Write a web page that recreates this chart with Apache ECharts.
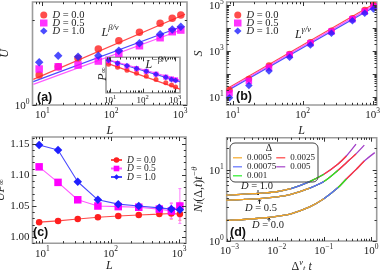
<!DOCTYPE html>
<html><head><meta charset="utf-8">
<script src="https://cdn.jsdelivr.net/npm/echarts@6/dist/echarts.min.js"></script>
<style>html,body{margin:0;padding:0;background:#fff}#c{width:382px;height:270px}</style>
</head><body><div id="c"></div>
<script>
// ---------- data ----------
const L = [9, 17, 33, 65, 129, 257, 513, 769, 1025];
// (a) U vs L
const U_D00 = [1.278, 1.367, 1.464, 1.580, 1.690, 1.811, 1.949, 2.030, 2.085];
const U_D05 = [1.342, 1.367, 1.386, 1.432, 1.525, 1.623, 1.733, 1.820, 1.845];
const U_D10 = [1.417, 1.496, 1.484, 1.496, 1.558, 1.655, 1.781, 1.855, 1.896];
const UFit_D00 = [[7.4, 1.233], [1180, 2.10]];
const UFit_D05 = [[7.4, 1.184], [1060, 1.85]];
const UFit_D10 = [[7.4, 1.21], [1060, 1.90]];
// (a) inset P_inf vs L
const P_D00 = [0.70, 0.655, 0.615, 0.575, 0.54, 0.505, 0.47, 0.448, 0.43];
const P_D05 = [0.75, 0.71, 0.67, 0.635, 0.60, 0.565, 0.53, 0.51, 0.50];
const P_D10 = [0.76, 0.715, 0.675, 0.638, 0.60, 0.565, 0.53, 0.505, 0.492];
const PFit_D00 = [[7.5, 0.719], [1400, 0.41]];
const PFit_D05 = [[7.5, 0.781], [1400, 0.499]];
const PFit_D10 = [[7.5, 0.773], [1400, 0.482]];
// (b) S vs L
const S_D00 = [19.6, 59.3, 226, 733, 2377, 7620, 26500, 61100, 101000];
const S_D05 = [14.1, 48.5, 185, 662, 2148, 6890, 24000, 51500, 85100];
const S_D10 = [9.0, 30.2, 132, 525, 1811, 5870, 20800, 43900, 67600];
const SFit_D00 = [[8.5, 23.3], [1115, 127000]];
const SFit_D05 = [[8.5, 20.8], [1115, 107000]];
const SFit_D10 = [[8.5, 18.3], [1115, 91600]];
// (c) U*P_inf vs L
const UP_D00 = [1.024, 1.026, 1.029, 1.032, 1.034, 1.0355, 1.037, 1.038, 1.037];
const UP_D05 = [1.113, 1.088, 1.060, 1.050, 1.049, 1.048, 1.045, 1.042, 1.050];
const UP_D10 = [1.148, 1.140, 1.089, 1.060, 1.053, 1.050, 1.047, 1.045, 1.044];
const UPerr_D00 = [0, 0, 0, 0, 0, 0, 0, 0.009, 0.010];
const UPerr_D05 = [0, 0, 0, 0, 0, 0, 0, 0.012, 0.028];
const UPerr_D10 = [0, 0, 0, 0, 0, 0, 0, 0.010, 0.012];
// (d) scaled N_l vs Delta^nu t
const deltas = ['0.0005', '0.00075', '0.001', '0.0025', '0.005'];
const dX = [0.0008, 0.001, 0.002, 0.005, 0.01, 0.02, 0.05, 0.1, 0.2, 0.3, 0.48, 0.72, 1.2];
const N_D00 = [1.94, 1.95, 2.0, 2.1, 2.22, 2.4, 3.0, 3.9, 5.6, 7.4, 10.0, 13.2, 17.3];
const N_D05 = [3.72, 3.75, 3.82, 3.95, 4.15, 4.5, 5.5, 6.8, 9.8, 12.5, 16.6, 22.0];
const N_D10 = [4.38, 4.40, 4.55, 4.7, 4.9, 5.4, 6.8, 8.6, 12.0, 15.5, 22.7];
const nPts_D00 = [8, 9, 10, 12, 13];
const nPts_D05 = [7, 8, 9, 11, 12];
const nPts_D10 = [6, 7, 8, 10, 11];
// tick labels
const xLabL = [10, 100, 1000];
const yLabA = [1];
const yLabB = [10, 1000, 100000];
const yLabC = [1.00, 1.05, 1.10, 1.15];
const xLabD = [0.001, 0.01, 0.1, 1];
const yLabD = [1, 10];

// ---------- styling helpers ----------
const SERIF = 'Liberation Serif';
const SANS = 'Liberation Sans';
const TXT = '#222';
const RED = '#ff1f1f', MAG = '#ff00ff', BLU = '#1f1fff';
const RED_L = '#ff4a4a', MAG_L = '#ff5aff', BLU_L = '#4a4aff';
const DCOL = ['#f5a623', '#5a6cff', '#22ee22', '#ff3a3a', '#a23ec8'];
const LINE_ICON = 'path://M0,0L0,0M0,3.2h10v1.3h-10zM10,7L10,7';

const RICH = {
  b: {fontFamily: SERIF, fontSize: 11, lineHeight: 14, verticalAlign: 'bottom', color: TXT},
  s: {fontFamily: SERIF, fontSize: 7.5, lineHeight: 8, verticalAlign: 'top', color: TXT},
  bs: {fontFamily: SERIF, fontSize: 9, lineHeight: 11, verticalAlign: 'bottom', color: TXT},
  ss: {fontFamily: SERIF, fontSize: 6.5, lineHeight: 7, verticalAlign: 'top', color: TXT},
  i: {fontFamily: SERIF, fontStyle: 'italic', fontSize: 12, lineHeight: 15, verticalAlign: 'bottom', color: TXT},
  n: {fontFamily: SERIF, fontSize: 12, lineHeight: 15, verticalAlign: 'bottom', color: TXT},
  sup: {fontFamily: SERIF, fontStyle: 'italic', fontSize: 8.5, lineHeight: 9, verticalAlign: 'top', color: TXT},
  sub: {fontFamily: SERIF, fontStyle: 'italic', fontSize: 8.5, lineHeight: 9, verticalAlign: 'bottom', color: TXT},
  subn: {fontFamily: SERIF, fontSize: 8.5, lineHeight: 9, verticalAlign: 'bottom', color: TXT},
  di: {fontFamily: SERIF, fontStyle: 'italic', fontSize: 10.5, color: TXT},
  dn: {fontFamily: SERIF, fontSize: 10.5, color: TXT}
};

function isIn(v, list) { return list.some(t => Math.abs(t - v) <= Math.abs(t) * 1e-6); }
function expFmt(list, small) {
  return function (v) {
    if (!isIn(v, list)) return '';
    const e = Math.round(Math.log10(v));
    const es = e < 0 ? '\u2212' + (-e) : String(e);
    return small ? '{bs|10}{ss|' + es + '}' : '{b|10}{s|' + es + '}';
  };
}
function minors(lo, hi) {
  const out = [];
  for (let k = Math.floor(Math.log10(lo)); k <= Math.ceil(Math.log10(hi)); k++) {
    for (let m = 2; m <= 9; m++) { const v = m * Math.pow(10, k); if (v >= lo && v <= hi) out.push(v); }
  }
  return out;
}
function decades(lo, hi) {
  const out = [];
  for (let k = Math.ceil(Math.log10(lo) - 1e-9); k <= Math.floor(Math.log10(hi) + 1e-9); k++) out.push(Math.pow(10, k));
  return out;
}
function tickSeries(axis, xi, yi, values, len, ref) {
  return {
    type: 'custom', xAxisIndex: xi, yAxisIndex: yi, silent: true, clip: false, z: 10,
    data: values.map(v => axis === 'x' ? [v, ref] : [ref, v]),
    renderItem: function (params, api) {
      const cs = params.coordSys;
      const p = api.coord([api.value(0), api.value(1)]);
      const st = {stroke: '#333', lineWidth: 1};
      if (axis === 'x') {
        const x = Math.round(p[0]) + 0.5;
        if (x < cs.x - 0.5 || x > cs.x + cs.width + 0.5) return null;
        const b = cs.y + cs.height, t = cs.y;
        return {type: 'group', children: [
          {type: 'line', shape: {x1: x, y1: b, x2: x, y2: b - len}, style: st},
          {type: 'line', shape: {x1: x, y1: t, x2: x, y2: t + len}, style: st}]};
      } else {
        const y = Math.round(p[1]) + 0.5;
        if (y < cs.y - 0.5 || y > cs.y + cs.height + 0.5) return null;
        const l = cs.x, r = cs.x + cs.width;
        return {type: 'group', children: [
          {type: 'line', shape: {x1: l, y1: y, x2: l + len, y2: y}, style: st},
          {type: 'line', shape: {x1: r, y1: y, x2: r - len, y2: y}, style: st}]};
      }
    }
  };
}

const R = {
  a: {x: [7.2, 1260], y: [1, 2.32]},
  ai: {x: [7.5, 1400], y: [0.38, 0.81]},
  b: {x: [8.2, 1140], y: [4.3, 136000]},
  c: {x: [7.2, 1260], y: [0.99, 1.161]},
  d: {x: [0.00087, 1.32], y: [1, 28]}
};

function gridBox(left, top, width, height, bg) {
  return {left, top, width, height, show: true, borderColor: '#9c9c9c', borderWidth: 1.6,
    backgroundColor: bg || 'transparent', containLabel: false, outerBoundsMode: 'none'};
}
function xAx(gi, rng, fmt, name, gap, margin) {
  return {type: 'log', gridIndex: gi, min: rng[0], max: rng[1], logBase: 10,
    axisLine: {show: false}, axisTick: {show: false}, splitLine: {show: false}, minorTick: {show: false},
    axisLabel: {formatter: fmt, margin: margin == null ? 2 : margin, rich: RICH, showMinLabel: true, showMaxLabel: true, hideOverlap: false},
    name: name || '', nameLocation: 'middle', nameGap: gap || 15, nameTextStyle: {rich: RICH}};
}
function yAx(gi, rng, fmt, name, gap, type) {
  const o = {type: type || 'log', gridIndex: gi, min: rng[0], max: rng[1],
    axisLine: {show: false}, axisTick: {show: false}, splitLine: {show: false}, minorTick: {show: false},
    axisLabel: {formatter: fmt, margin: 3, rich: RICH, fontFamily: SERIF, fontSize: 11, color: TXT, hideOverlap: false},
    name: name || '', nameLocation: 'middle', nameGap: gap || 20, nameTextStyle: {rich: RICH}};
  if (o.type === 'log') o.logBase = 10;
  return o;
}

function pts(xs, ys) { return xs.map((x, i) => [x, ys[i]]); }
function scat(name, xi, data, color, symbol, size) {
  return {name, type: 'scatter', xAxisIndex: xi, yAxisIndex: xi, data, symbol, symbolSize: size,
    itemStyle: {color}, z: 4};
}
function fit(xi, data, color) {
  return {type: 'line', xAxisIndex: xi, yAxisIndex: xi, data, symbol: 'none', silent: true,
    lineStyle: {color, width: 1.2}, z: 3};
}

// ---------- series ----------
const series = [];
// (a)
series.push(fit(0, UFit_D00, RED_L), fit(0, UFit_D10, BLU_L), fit(0, UFit_D05, MAG_L));
series.push(scat('a:0.0', 0, pts(L, U_D00), RED, 'circle', 7.5));
series.push(scat('a:0.5', 0, pts(L, U_D05), MAG, 'rect', 7.5));
series.push(scat('a:1.0', 0, pts(L, U_D10), BLU, 'diamond', 8.5));
// (a) inset
series.push(fit(1, PFit_D00, RED_L), fit(1, PFit_D10, BLU_L), fit(1, PFit_D05, MAG_L));
series.push(scat('ai:0.0', 1, pts(L, P_D00), RED, 'circle', 5));
series.push(scat('ai:0.5', 1, pts(L, P_D05), MAG, 'rect', 5));
series.push(scat('ai:1.0', 1, pts(L, P_D10), BLU, 'diamond', 6));
// (b)
series.push(fit(2, SFit_D00, RED_L), fit(2, SFit_D05, MAG_L), fit(2, SFit_D10, BLU_L));
series.push(scat('b:0.0', 2, pts(L, S_D00), RED, 'circle', 6.5));
series.push(scat('b:0.5', 2, pts(L, S_D05), MAG, 'rect', 6.5));
series.push(scat('b:1.0', 2, pts(L, S_D10), BLU, 'diamond', 7.5));
// (c) error bars
function errSeries(ys, es, color) {
  return {type: 'custom', xAxisIndex: 3, yAxisIndex: 3, silent: true, z: 3,
    data: L.map((x, i) => [x, ys[i], es[i]]).filter(d => d[2] > 0),
    renderItem: function (params, api) {
      const x = api.value(0), y = api.value(1), e = api.value(2);
      const p1 = api.coord([x, y - e]), p2 = api.coord([x, y + e]);
      const st = {stroke: color, lineWidth: 1};
      return {type: 'group', children: [
        {type: 'line', shape: {x1: p1[0], y1: p1[1], x2: p2[0], y2: p2[1]}, style: st},
        {type: 'line', shape: {x1: p1[0] - 1.5, y1: p1[1], x2: p1[0] + 1.5, y2: p1[1]}, style: st},
        {type: 'line', shape: {x1: p2[0] - 1.5, y1: p2[1], x2: p2[0] + 1.5, y2: p2[1]}, style: st}]};
    }};
}
series.push(errSeries(UP_D00, UPerr_D00, '#ff8080'), errSeries(UP_D05, UPerr_D05, '#ff80ff'), errSeries(UP_D10, UPerr_D10, '#ff80ff'));
function cline(name, ys, color, lcolor, symbol, size) {
  return {name, type: 'line', xAxisIndex: 3, yAxisIndex: 3, data: pts(L, ys), symbol, symbolSize: size,
    showSymbol: true, itemStyle: {color}, lineStyle: {color: lcolor, width: 1.1}, z: 4};
}
series.push(cline('c:0.0', UP_D00, RED, RED_L, 'circle', 6.5));
series.push(cline('c:0.5', UP_D05, MAG, MAG_L, 'rect', 7.5));
series.push(cline('c:1.0', UP_D10, BLU, BLU_L, 'diamond', 8.5));
// (d)
const bundles = [[N_D00, nPts_D00], [N_D05, nPts_D05], [N_D10, nPts_D10]];
deltas.forEach((dl, k) => {
  bundles.forEach(([ys, ns]) => {
    const n = ns[k];
    series.push({name: 'd:' + dl, type: 'line', xAxisIndex: 4, yAxisIndex: 4,
      data: dX.slice(0, n).map((x, i) => [x, ys[i]]), symbol: 'none', smooth: 0.3,
      lineStyle: {color: DCOL[k], width: 1.3}, itemStyle: {color: DCOL[k]}, z: 3.5 - k * 0.1});
  });
});

// ticks
function addTicks(gi, rx, ry, yMajors, yMinors) {
  series.push(tickSeries('x', gi, gi, decades(rx[0], rx[1]), 4, ry[0]));
  series.push(tickSeries('x', gi, gi, minors(rx[0], rx[1]), 2.2, ry[0]));
  if (yMajors) series.push(tickSeries('y', gi, gi, yMajors, 4, rx[0]));
  if (yMinors) series.push(tickSeries('y', gi, gi, yMinors, 2.2, rx[0]));
}
addTicks(0, R.a.x, R.a.y, decades(R.a.y[0], R.a.y[1]), minors(R.a.y[0], R.a.y[1]));
addTicks(1, R.ai.x, R.ai.y, null, null);
addTicks(2, R.b.x, R.b.y, decades(R.b.y[0], R.b.y[1]), minors(R.b.y[0], R.b.y[1]));
const cMinor = [];
for (let v = 99; v <= 116; v++) cMinor.push(v / 100);
addTicks(3, R.c.x, R.c.y, yLabC, cMinor);
addTicks(4, R.d.x, R.d.y, decades(R.d.y[0], R.d.y[1]), minors(R.d.y[0], R.d.y[1]));

// ---------- legends ----------
function dLegend(prefix, left, top, iw, fs, gap) {
  return {data: ['0.0', '0.5', '1.0'].map(s => prefix + ':' + s), left, top, orient: 'vertical',
    itemGap: gap, itemWidth: iw, itemHeight: 7, padding: 0, selectedMode: false,
    formatter: n => '{i|D} = ' + n.split(':')[1],
    textStyle: {fontFamily: SERIF, fontSize: fs, color: TXT,
      rich: {i: {fontFamily: SERIF, fontStyle: 'italic', fontSize: fs, color: TXT}}}};
}
const legends = [
  dLegend('a', 40, 9.5, 7.5, 10.5, -3),
  dLegend('b', 234, 9.5, 7.5, 10.5, -3),
  dLegend('c', 110, 155, 11, 9.5, -1.5),
  {data: deltas.map(d => 'd:' + d), left: 230, top: 143, orient: 'vertical', height: 30,
    itemGap: 0, itemWidth: 9, itemHeight: 7, padding: [10, 3, 2, 3], selectedMode: false,
    icon: LINE_ICON,
    borderColor: '#444', borderWidth: 1, borderRadius: 5,
    formatter: n => n.split(':')[1],
    textStyle: {fontFamily: SERIF, fontSize: 9, color: TXT}}
];

// ---------- graphics ----------
function gtext(x, y, text, extra) {
  return Object.assign({type: 'text', x, y, silent: true, z: 50,
    style: Object.assign({text, rich: RICH, align: 'center', verticalAlign: 'middle', fill: TXT,
      fontFamily: SERIF, fontSize: 11}, (extra && extra.style) || {})},
    extra && extra.rot ? {rotation: extra.rot} : {});
}
const panelLbl = (x, y, t) => ({type: 'text', x, y, silent: true, z: 50,
  style: {text: t, fontFamily: SANS, fontWeight: 'bold', fontSize: 12.5, fill: '#111', align: 'left', verticalAlign: 'middle'}});
function arrow(x, y1, y2) {
  const d = y2 > y1 ? -1.8 : 1.8;
  return {type: 'group', silent: true, z: 50, children: [
    {type: 'line', shape: {x1: x, y1: y1, x2: x, y2: y2}, style: {stroke: '#111', lineWidth: 0.9}},
    {type: 'polyline', shape: {points: [[x - 1.3, y2 + d], [x, y2], [x + 1.3, y2 + d]]}, style: {stroke: '#111', lineWidth: 0.9, fill: null}}]};
}
const graphic = [
  panelLbl(37, 98, '(a)'), panelLbl(236, 97, '(b)'), panelLbl(33, 233, '(c)'), panelLbl(230, 233, '(d)'),
  gtext(110, 31, '{i|L}{sup|β/ν}'),
  gtext(157, 63, '{i|L}{sup|−β/ν}'),
  gtext(101, 74, '{i|P}{subn|∞}', {rot: Math.PI / 2}),
  gtext(303, 33, '{i|L}{sup|γ/ν}'),
  gtext(269, 148, 'Δ', {style: {fontSize: 10}}),
  gtext(257, 186, '{di|D}{dn| = 1.0}'),
  gtext(261, 208, '{di|D}{dn| = 0.5}'),
  gtext(268, 225, '{di|D}{dn| = 0.0}'),
  arrow(258, 190, 195), arrow(259.5, 204, 199.5), arrow(269, 221.5, 218)
];

const option = {
  animation: false,
  backgroundColor: '#fff',
  grid: [
    gridBox(32.5, 2, 154.5, 103),
    gridBox(106, 57.3, 74, 35.4, '#fff'),
    gridBox(226.7, 2, 150, 103),
    gridBox(32.5, 137, 153.5, 106.3),
    gridBox(226.7, 137.7, 150, 103.3)
  ],
  xAxis: [
    xAx(0, R.a.x, expFmt(xLabL), '{i|L}', 17),
    xAx(1, R.ai.x, expFmt(xLabL, true), '', 10, 1),
    xAx(2, R.b.x, expFmt(xLabL), '{i|L}', 17),
    xAx(3, R.c.x, expFmt(xLabL), '{i|L}', 14),
    xAx(4, R.d.x, expFmt(xLabD), '{n|Δ}{sup|ν}{sub|t}{n| }{i|t}', 16)
  ],
  yAxis: [
    yAx(0, R.a.y, expFmt(yLabA), '{i|U}', 21),
    yAx(1, R.ai.y, () => '', '', 10),
    yAx(2, R.b.y, expFmt(yLabB), '{i|S}', 19),
    yAx(3, R.c.y, v => isIn(v, yLabC) ? v.toFixed(2) : '', '{i|UP}{subn|∞}', 20, 'value'),
    yAx(4, R.d.y, expFmt(yLabD), '{i|N}{sub|l}{n|(Δ,}{i|t}{n|)}{i|t}{sup|−θ}', 21)
  ],
  legend: legends,
  series,
  graphic
};
option.yAxis[3].splitNumber = 3;
const chart = echarts.init(document.getElementById('c'), null, {renderer: 'canvas'});
chart.setOption(option);
</script></body></html>
